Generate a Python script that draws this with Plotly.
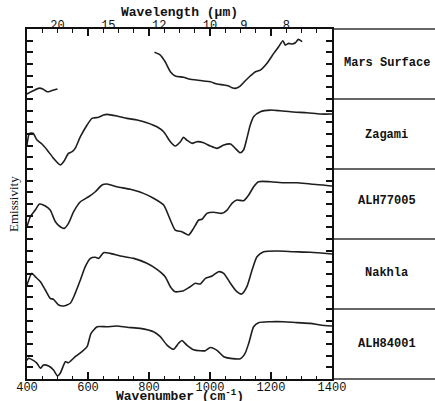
import plotly.graph_objects as go

# ---------------- data (wavenumber cm^-1, offset emissivity units) ----------------
mars_l_wn = [400, 420, 441, 452, 466, 482, 500]
mars_l_y = [24.43, 24.70, 24.93, 24.85, 24.62, 24.72, 24.85]

mars_r_wn = [818, 837, 853, 870, 886, 913, 935, 957, 979, 1001, 1023, 1045, 1061, 1072,
             1083, 1099, 1115, 1132, 1149, 1165, 1187, 1209, 1225, 1239, 1247, 1258, 1269,
             1280, 1290, 1302]
mars_r_y = [28.0, 27.77, 27.19, 26.34, 25.97, 25.86, 25.69, 25.63, 25.54, 25.48, 25.28, 25.20,
            25.11, 24.97, 24.91, 25.11, 25.54, 25.97, 26.34, 26.48, 27.06, 27.91, 28.48, 28.99,
            28.62, 28.77, 28.71, 28.82, 29.11, 28.91]

zag_wn = [400, 408, 420, 433, 449, 466, 487, 509, 520, 536, 548, 558, 575, 597, 613, 635, 651,
          662, 695, 728, 761, 793, 826, 848, 870, 886, 903, 913, 924, 941, 957, 979, 1001, 1023,
          1045, 1067, 1083, 1099, 1110, 1121, 1132, 1143, 1165, 1198, 1230, 1274, 1318, 1362, 1400]
zag_y = [20.05, 21.06, 21.06, 20.48, 20.14, 19.63, 18.91, 18.34, 18.62, 19.34, 19.48, 19.77,
         20.77, 21.77, 22.34, 22.43, 22.62, 22.68, 22.54, 22.34, 22.20, 21.97, 21.62, 21.19,
         20.34, 19.97, 20.34, 20.71, 20.48, 20.20, 20.34, 20.25, 19.97, 19.77, 20.05, 20.14,
         19.77, 19.39, 19.63, 20.63, 21.77, 22.48, 22.91, 23.05, 22.99, 22.88, 22.82, 22.71, 22.71]

a77_wn = [400, 411, 427, 441, 460, 476, 493, 509, 522, 536, 553, 575, 602, 624, 646, 662, 695,
          739, 782, 815, 848, 870, 886, 908, 930, 946, 963, 974, 990, 1012, 1039, 1056, 1072,
          1088, 1110, 1127, 1143, 1159, 1198, 1241, 1285, 1329, 1372, 1400]
a77_y = [13.05, 13.91, 14.48, 15.00, 14.83, 14.48, 13.48, 13.05, 12.91, 13.34, 14.34, 15.19,
         15.62, 16.05, 16.63, 16.71, 16.48, 16.26, 15.91, 15.49, 14.91, 13.63, 12.77, 12.62,
         12.34, 12.91, 13.63, 13.69, 14.20, 14.29, 14.20, 14.48, 15.06, 15.34, 15.28, 15.77,
         16.48, 16.91, 16.91, 16.82, 16.82, 16.71, 16.63, 16.54]

nak_wn = [400, 416, 427, 444, 460, 476, 487, 504, 520, 542, 558, 575, 591, 608, 624, 635, 651,
          673, 706, 750, 793, 826, 853, 870, 886, 913, 935, 952, 968, 985, 1007, 1028, 1045,
          1067, 1088, 1104, 1121, 1138, 1154, 1176, 1220, 1274, 1329, 1400]
nak_y = [8.06, 9.06, 8.77, 8.34, 7.63, 6.92, 6.83, 6.34, 6.26, 6.49, 7.34, 8.49, 9.63, 10.34,
         10.43, 10.34, 10.83, 10.77, 10.54, 10.34, 9.92, 9.40, 8.77, 7.91, 7.48, 7.57, 7.91,
         8.20, 8.14, 8.63, 8.83, 9.20, 9.06, 8.20, 7.48, 7.28, 7.91, 9.34, 10.48, 10.91, 10.97,
         10.91, 10.86, 10.71]

a84_wn = [400, 405, 422, 433, 444, 454, 471, 487, 500, 509, 526, 536, 558, 580, 597, 610, 630,
          662, 695, 728, 771, 815, 837, 859, 881, 897, 908, 924, 946, 968, 985, 1001, 1023, 1045,
          1067, 1099, 1115, 1127, 1143, 1159, 1198, 1241, 1285, 1329, 1362, 1400]
a84_y = [1.60, 1.78, 1.57, 1.34, 0.92, 1.20, 1.11, 0.77, 0.26, 0.49, 1.48, 1.40, 1.91, 2.34,
         2.77, 3.91, 4.48, 4.48, 4.54, 4.43, 4.34, 4.05, 3.63, 2.91, 2.55, 3.06, 3.30, 2.91,
         2.51, 2.42, 2.43, 2.70, 2.46, 1.91, 1.77, 1.73, 2.20, 3.06, 4.48, 4.83, 4.91, 4.91,
         4.83, 4.77, 4.63, 4.54]

sample_names = ["Mars Surface", "Zagami", "ALH77005", "Nakhla", "ALH84001"]
label_y = [0.903, 0.697, 0.51, 0.303, 0.100]

wavelength_um = [20, 15, 12, 10, 9, 8]
x_range = [400, 1400]
y_range = [0, 30]

# ---------------- figure ----------------
LINE = "#1e1e1e"
fig = go.Figure()
series = [(mars_l_wn, mars_l_y), (mars_r_wn, mars_r_y), (zag_wn, zag_y),
          (a77_wn, a77_y), (nak_wn, nak_y), (a84_wn, a84_y)]
for xs, ys in series:
    fig.add_trace(go.Scatter(x=xs, y=ys, mode="lines", line=dict(color=LINE, width=1.6),
                             line_shape="spline", line_smoothing=0.6,
                             hoverinfo="skip", showlegend=False))
# invisible trace to activate the top wavelength axis
fig.add_trace(go.Scatter(x=x_range, y=[0, 0], xaxis="x2", mode="markers",
                         marker=dict(opacity=0), hoverinfo="skip", showlegend=False))

fig.update_layout(
    width=435, height=401,
    margin=dict(l=27, r=103, t=29, b=22),
    paper_bgcolor="white", plot_bgcolor="white",
    xaxis=dict(range=x_range, tick0=400, dtick=200, ticks="inside", ticklen=7,
               tickwidth=1.5, tickcolor="#111", showline=True, linewidth=2,
               linecolor="#111", mirror="ticks", showgrid=False, zeroline=False,
               automargin=False, ticklabelstandoff=-4,
               tickfont=dict(family="Liberation Mono", size=12, color="#111"),
               minor=dict(dtick=50, tick0=400, ticks="inside", ticklen=3.5,
                          tickwidth=1.3, tickcolor="#111", showgrid=False)),
    xaxis2=dict(range=x_range, overlaying="x", side="top",
                tickvals=[10000 / w for w in wavelength_um],
                ticktext=[str(w) for w in wavelength_um],
                ticks="", showline=False, showgrid=False, zeroline=False,
                automargin=False, ticklabelstandoff=-3,
                tickfont=dict(family="Liberation Mono", size=12, color="#111")),
    yaxis=dict(range=y_range, tick0=0, dtick=1, ticks="inside", ticklen=6,
               tickwidth=1.5, tickcolor="#111", showticklabels=False,
               showline=True, linewidth=2, linecolor="#111", mirror="ticks",
               showgrid=False, zeroline=False, automargin=False),
    font=dict(family="Liberation Mono", color="#111"),
)

# x title (bottom), top title, y title
fig.add_annotation(text="<b>Wavenumber (cm<sup>-1</sup>)</b>", xref="paper", yref="paper",
                   x=0.5, y=-0.047, yanchor="middle", showarrow=False,
                   font=dict(family="Liberation Mono", size=13, color="#111"))
fig.add_annotation(text="<b>Wavelength (µm)</b>", xref="paper", yref="paper",
                   x=0.5, y=1.046, yanchor="middle", showarrow=False,
                   font=dict(family="Liberation Mono", size=13, color="#111"))
fig.add_annotation(text="Emissivity", xref="paper", yref="paper", x=-0.046, y=0.5,
                   textangle=-90, showarrow=False, xanchor="center", yanchor="middle",
                   font=dict(family="Liberation Serif", size=13, color="#111"))

# right label panel
for i in range(6):
    fig.add_shape(type="line", xref="paper", yref="paper", x0=1.006, x1=1.34,
                  y0=i * 0.2, y1=i * 0.2, line=dict(color="#333", width=1.5))
for name, ly in zip(sample_names, label_y):
    fig.add_annotation(text="<b>" + name + "</b>", xref="paper", yref="paper",
                       x=1.18, y=ly, showarrow=False, xanchor="center", yanchor="middle",
                       font=dict(family="Liberation Mono", size=12, color="#111"))

fig.write_html("out.html")
